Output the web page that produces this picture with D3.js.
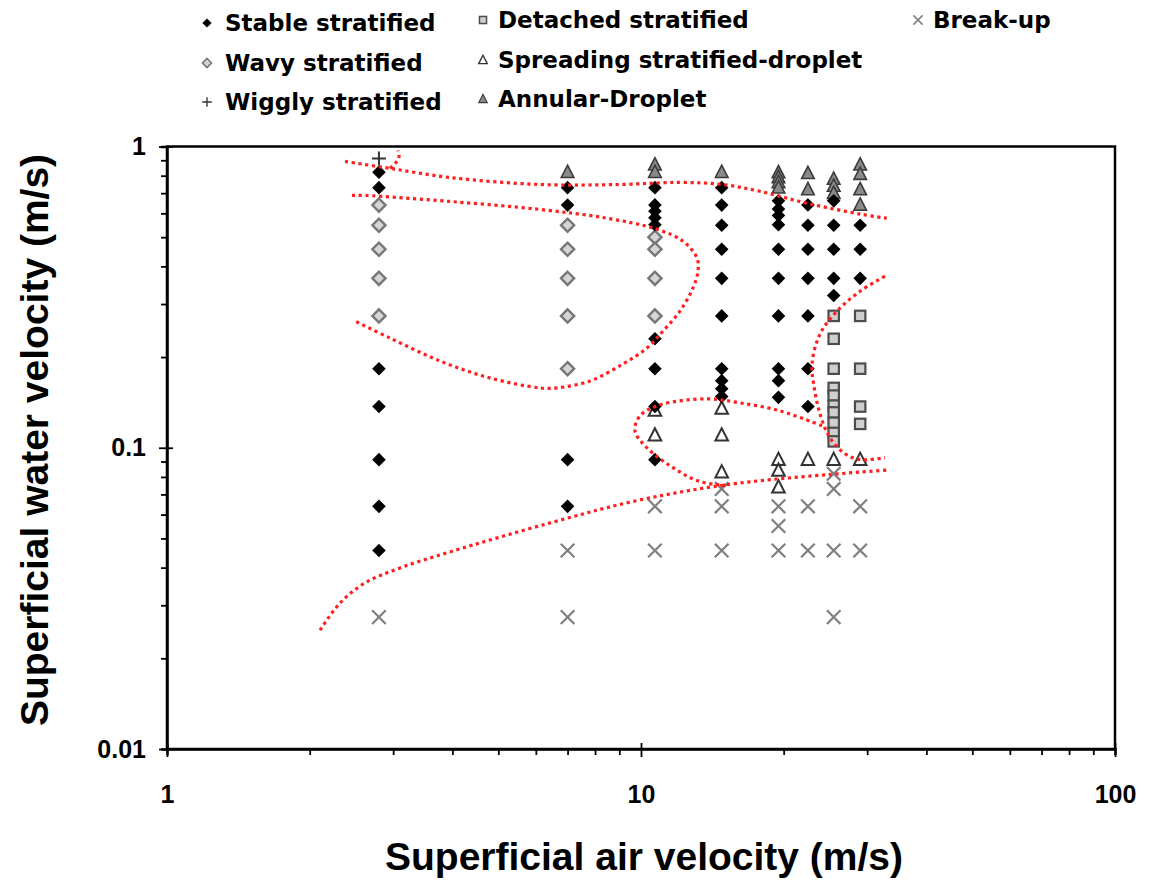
<!DOCTYPE html>
<html><head><meta charset="utf-8">
<script src="https://cdn.jsdelivr.net/npm/d3@7"></script>
<style>body{margin:0;background:#fff}</style>
</head><body><svg id="c" width="1150" height="880"></svg>
<script>
// ---------- DATA ----------
const xMajor = [1, 10, 100];
const xTickLabels = ["1", "10", "100"];
const yMajor = [0.01, 0.1, 1];
const yTickLabels = ["0.01", "0.1", "1"];
const xTitle = "Superficial air velocity (m/s)";
const yTitle = "Superficial water velocity (m/s)";

const stableStratified = [
  [2.8,0.822],[2.8,0.73],[2.8,0.183],[2.8,0.137],[2.8,0.0913],[2.8,0.0639],[2.8,0.0456],
  [7.0,0.73],[7.0,0.639],[7.0,0.0913],[7.0,0.0639],
  [10.7,0.73],[10.7,0.64],[10.7,0.61],[10.7,0.58],[10.7,0.55],[10.7,0.23],[10.7,0.183],[10.7,0.137],[10.7,0.0913],
  [14.8,0.73],[14.8,0.639],[14.8,0.548],[14.8,0.456],[14.8,0.365],[14.8,0.274],[14.8,0.183],[14.8,0.167],[14.8,0.157],[14.8,0.148],
  [19.5,0.66],[19.5,0.62],[19.5,0.59],[19.5,0.55],[19.5,0.456],[19.5,0.365],[19.5,0.274],[19.5,0.183],[19.5,0.167],[19.5,0.147],
  [22.5,0.64],[22.5,0.548],[22.5,0.456],[22.5,0.365],[22.5,0.274],[22.5,0.183],[22.5,0.137],
  [25.5,0.66],[25.5,0.548],[25.5,0.456],[25.5,0.365],[25.5,0.32],
  [29.0,0.548],[29.0,0.456],[29.0,0.365]
];
const wavyStratified = [
  [2.8,0.639],[2.8,0.548],[2.8,0.456],[2.8,0.365],[2.8,0.274],
  [7.0,0.548],[7.0,0.456],[7.0,0.365],[7.0,0.274],[7.0,0.183],
  [10.7,0.50],[10.7,0.456],[10.7,0.365],[10.7,0.274]
];
const wigglyStratified = [[2.8,0.913]];
const detachedStratified = [
  [25.5,0.274],[25.5,0.23],[25.5,0.183],[25.5,0.158],[25.5,0.149],[25.5,0.138],[25.5,0.131],[25.5,0.121],[25.5,0.112],[25.5,0.105],
  [29.0,0.274],[29.0,0.183],[29.0,0.137],[29.0,0.12]
];
const spreadingStratifiedDroplet = [
  [10.7,0.133],[10.7,0.11],
  [14.8,0.135],[14.8,0.11],[14.8,0.083],
  [19.5,0.0913],[19.5,0.084],[19.5,0.074],
  [22.5,0.0913],[25.5,0.0913],[29.0,0.0913]
];
const annularDroplet = [
  [7.0,0.822],
  [10.7,0.87],[10.7,0.822],
  [14.8,0.822],
  [19.5,0.82],[19.5,0.79],[19.5,0.76],[19.5,0.73],
  [22.5,0.815],[22.5,0.72],
  [25.5,0.78],[25.5,0.74],[25.5,0.70],
  [29.0,0.87],[29.0,0.81],[29.0,0.72],[29.0,0.64]
];
const breakUp = [
  [2.8,0.0274],
  [7.0,0.0456],[7.0,0.0274],
  [10.7,0.0639],[10.7,0.0456],
  [14.8,0.073],[14.8,0.0639],[14.8,0.0456],
  [19.5,0.0639],[19.5,0.055],[19.5,0.0456],
  [22.5,0.0639],[22.5,0.0456],
  [25.5,0.082],[25.5,0.073],[25.5,0.0456],[25.5,0.0274],
  [29.0,0.0639],[29.0,0.0456]
];

// transition boundaries (red dotted), in data units
const boundaryTop = [[2.375,0.892],[2.954,0.846],[3.954,0.789],[6.12,0.748],[9.03,0.748],[12.08,0.760],[14.82,0.748],[17.82,0.71],[22.5,0.647],[29.1,0.596],[33.0,0.578]];
const boundaryHook = [[2.954,0.846],[3.042,0.885],[3.087,0.927],[3.07,0.970]];
const boundaryWavy = [[2.456,0.688],[2.617,0.688],[3.954,0.657],[6.12,0.618],[8.48,0.578],[10.81,0.531],[12.26,0.485],[13.13,0.426],[13.19,0.386],[12.87,0.339],[12.08,0.284],[11.13,0.244],[10.29,0.2143],[9.16,0.1897],[7.81,0.1667],[6.65,0.158],[6.12,0.158],[4.80,0.1705],[3.77,0.194],[2.954,0.2313],[2.493,0.2633]];
const boundaryDetached = [[32.7,0.371],[29.0,0.331],[25.9,0.284],[23.86,0.2384],[22.95,0.1897],[23.17,0.1604],[23.86,0.1296],[25.04,0.1079],[26.94,0.0955],[29.0,0.0913],[32.7,0.0927]];
const boundarySpreading = [[24.09,0.1183],[19.65,0.1326],[16.18,0.1409],[13.78,0.1453],[10.97,0.1388],[9.95,0.1276],[9.71,0.1138],[10.29,0.1],[11.68,0.0859],[13.32,0.0772],[15.41,0.0749]];
const boundaryBreakUp = [[2.103,0.0248],[2.317,0.0305],[2.617,0.0356],[3.101,0.0399],[3.954,0.0451],[6.43,0.0563],[9.95,0.0671],[16.18,0.0764],[33.5,0.0844]];

const legendLabels = ["Stable stratified","Wavy stratified","Wiggly stratified","Detached stratified","Spreading stratified-droplet","Annular-Droplet","Break-up"];

// ---------- CHART ----------
const svg = d3.select("#c");
const L = 167, R = 1115, T = 146.5, B = 749;
const x = d3.scaleLog().domain([1, 100]).range([L, R]);
const y = d3.scaleLog().domain([0.01, 1]).range([B, T]);

const AX = "'Liberation Sans', Arial, Helvetica, sans-serif";
const LEG = "'DejaVu Sans', Verdana, sans-serif";

function drawMarker(g, type, k) {
  const s = k;
  if (type === "stable") {
    g.append("path").attr("d", `M0,${-6.8*s}L${6.8*s},0L0,${6.8*s}L${-6.8*s},0Z`).attr("fill", "#000");
  } else if (type === "wavy") {
    g.append("path").attr("d", `M0,${-6.6*s}L${6.6*s},0L0,${6.6*s}L${-6.6*s},0Z`)
      .attr("fill", "#d6d6d6").attr("stroke", "#777").attr("stroke-width", 2.4*s);
  } else if (type === "wiggly") {
    g.append("path").attr("d", `M${-7*s},0H${7*s}M0,${-7*s}V${7*s}`)
      .attr("stroke", "#333").attr("stroke-width", 2*s);
  } else if (type === "detached") {
    g.append("rect").attr("x", -5.2*s).attr("y", -5.2*s).attr("width", 10.4*s).attr("height", 10.4*s)
      .attr("fill", "#cfcfcf").attr("stroke", "#4d4d4d").attr("stroke-width", 2.2*s);
  } else if (type === "spreading") {
    g.append("path").attr("d", `M0,${-7*s}L${6.3*s},${5.3*s}L${-6.3*s},${5.3*s}Z`)
      .attr("fill", "#fff").attr("stroke", "#333").attr("stroke-width", 2*s);
  } else if (type === "annular") {
    g.append("path").attr("d", `M0,${-7*s}L${6.3*s},${5.3*s}L${-6.3*s},${5.3*s}Z`)
      .attr("fill", "#8a8a8a").attr("stroke", "#3a3a3a").attr("stroke-width", 1.6*s);
  } else if (type === "breakup") {
    g.append("path").attr("d", `M${-6.8*s},${-6.8*s}L${6.8*s},${6.8*s}M${6.8*s},${-6.8*s}L${-6.8*s},${6.8*s}`)
      .attr("stroke", "#7f7f7f").attr("stroke-width", 2.2*s);
  }
}

// frame
svg.append("rect").attr("x", L).attr("y", T).attr("width", R - L).attr("height", B - T)
  .attr("fill", "none").attr("stroke", "#000").attr("stroke-width", 2.5);

// x axis ticks
const gx = svg.append("g").attr("transform", `translate(0,${B})`);
gx.call(d3.axisBottom(x).tickValues(x.ticks()).tickSize(6).tickFormat(""));
gx.select(".domain").attr("stroke", "#000").attr("stroke-width", 2.5);
gx.selectAll(".tick line").attr("stroke", "#000").attr("stroke-width", 1.8)
  .attr("y1", d => xMajor.includes(d) ? -6 : 0).attr("y2", d => xMajor.includes(d) ? 8 : 6);
const gxl = svg.append("g").attr("transform", `translate(0,${B})`);
gxl.call(d3.axisBottom(x).tickValues(xMajor).tickSize(0).tickPadding(36).tickFormat((d, i) => xTickLabels[i]));
gxl.select(".domain").remove();
gxl.selectAll("text").attr("font-family", AX).attr("font-weight", "bold").attr("font-size", 25).attr("fill", "#000");

// y axis ticks
const gy = svg.append("g").attr("transform", `translate(${L},0)`);
gy.call(d3.axisLeft(y).tickValues(y.ticks()).tickSize(6).tickFormat(""));
gy.select(".domain").attr("stroke", "#000").attr("stroke-width", 2.5);
gy.selectAll(".tick line").attr("stroke", "#000").attr("stroke-width", 1.8)
  .attr("x1", d => yMajor.some(m => Math.abs(m - d) < 1e-9) ? 6 : 0)
  .attr("x2", d => yMajor.some(m => Math.abs(m - d) < 1e-9) ? -8 : -6);
const gyl = svg.append("g").attr("transform", `translate(${L},0)`);
gyl.call(d3.axisLeft(y).tickValues(yMajor).tickSize(0).tickPadding(21).tickFormat((d, i) => yTickLabels[i]));
gyl.select(".domain").remove();
gyl.selectAll("text").attr("font-family", AX).attr("font-weight", "bold").attr("font-size", 25).attr("fill", "#000");

// axis titles
svg.append("text").attr("x", (L + R) / 2 + 3).attr("y", 870).attr("text-anchor", "middle")
  .attr("font-family", AX).attr("font-weight", "bold").attr("font-size", 39).text(xTitle);
svg.append("text").attr("transform", "rotate(-90)").attr("x", -440).attr("y", 48).attr("text-anchor", "middle")
  .attr("font-family", AX).attr("font-weight", "bold").attr("font-size", 39).text(yTitle);

// points
const series = [
  {data: detachedStratified, type: "detached"},
  {data: spreadingStratifiedDroplet, type: "spreading"},
  {data: annularDroplet, type: "annular"},
  {data: breakUp, type: "breakup"},
  {data: wavyStratified, type: "wavy"},
  {data: stableStratified, type: "stable"},
  {data: wigglyStratified, type: "wiggly"}
];
series.forEach(s => {
  svg.append("g").selectAll("g").data(s.data).join("g")
    .attr("transform", d => `translate(${x(d[0])},${y(d[1])})`)
    .each(function () { drawMarker(d3.select(this), s.type, 1); });
});

// boundaries
const line = d3.line().x(d => x(d[0])).y(d => y(d[1])).curve(d3.curveCatmullRom.alpha(0.5));
[boundaryTop, boundaryHook, boundaryWavy, boundaryDetached, boundarySpreading, boundaryBreakUp].forEach(b => {
  svg.append("path").attr("d", line(b)).attr("fill", "none").attr("stroke", "#ff1f1f")
    .attr("stroke-width", 3.2).attr("stroke-dasharray", "3.2,3.6");
});

// legend
const legTypes = ["stable","wavy","wiggly","detached","spreading","annular","breakup"];
const legPos = [[207,23],[207,63],[207,102],[483,20],[483,60],[483,99],[918,20]];
const legTextX = [225,225,225,498,498,498,933];
legendLabels.forEach((lab, i) => {
  const g = svg.append("g").attr("transform", `translate(${legPos[i][0]},${legPos[i][1]})`);
  drawMarker(g, legTypes[i], 0.68);
  svg.append("text").attr("x", legTextX[i]).attr("y", legPos[i][1]).attr("dy", "0.36em")
    .attr("font-family", LEG).attr("font-weight", "bold").attr("font-size", 23).attr("fill", "#000").text(lab);
});
</script>
</body></html>
